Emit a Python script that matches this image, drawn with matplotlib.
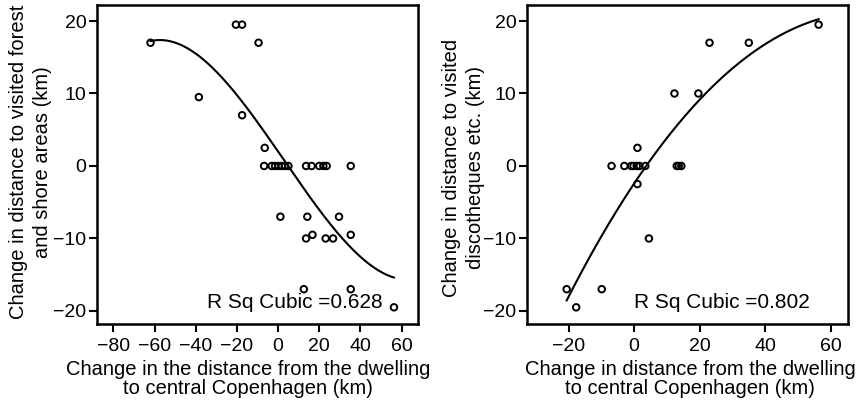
import numpy as np
import matplotlib
matplotlib.use("Agg")
import matplotlib.pyplot as plt

plt.rcParams['font.family'] = ['Liberation Sans', 'DejaVu Sans']

# Left panel: forest and shore areas
forest_x = [-62, -20.5, -17.5, -9.5, -38.5, -17.5, -6.5,
            -6.8, -3.1, -1.5, 0.2, 1.8, 3.4, 5.0, 13.6, 16.3, 20, 22, 23.6, 35.3,
            1.1, 14.2, 29.6, 13.6, 16.7, 23.1, 26.7, 35.3, 12.5, 35.3, 56.3]
forest_y = [17, 19.5, 19.5, 17, 9.5, 7, 2.5,
            0, 0, 0, 0, 0, 0, 0, 0, 0, 0, 0, 0, 0,
            -7, -7, -7, -10, -9.5, -10, -10, -9.5, -17, -17, -19.5]

# Right panel: discotheques etc.
disco_x = [56.3, 23, 35, 12.3, 19.6, 1.0,
           -6.9, -3.0, -0.9, -0.2, 0.8, 1.6, 3.4, 13, 13.6, 14.4,
           1.0, 4.5, -20.6, -9.9, -17.7]
disco_y = [19.5, 17, 17, 10, 10, 2.5,
           0, 0, 0, 0, 0, 0, 0, 0, 0, 0,
           -2.5, -10, -17, -17, -19.5]

xlabels = ["Change in the distance from the dwelling\nto central Copenhagen (km)",
           "Change in distance from the dwelling\nto central Copenhagen (km)"]
ylabels = ["Change in distance to visited forest\nand shore areas (km)",
           "Change in distance to visited\ndiscotheques etc. (km)"]
rsq_texts = ["R Sq Cubic =0.628", "R Sq Cubic =0.802"]
xticks_list = [[-80, -60, -40, -20, 0, 20, 40, 60], [-20, 0, 20, 40, 60]]
yticks = [-20, -10, 0, 10, 20]
xlims = [(-88, 68), (-32.7, 65.3)]
ylim = (-21.8, 22.2)

fig = plt.figure(figsize=(8.63, 4.11), dpi=100)
axes = [fig.add_axes([0.1124, 0.2117, 0.372, 0.776]),
        fig.add_axes([0.6107, 0.2117, 0.372, 0.776])]

datasets = [(forest_x, forest_y), (disco_x, disco_y)]
xlab_x = [0.47, 0.508]
ylab_pos = [(-0.14, 0.509), (-0.13, 0.49)]
rsq_x = [0.891, 0.882]
for i, ax in enumerate(axes):
    x = np.array(datasets[i][0], dtype=float)
    y = np.array(datasets[i][1], dtype=float)
    ax.scatter(x, y, s=22, facecolors='none', edgecolors='black', linewidths=1.4, zorder=3)
    coef = np.polyfit(x, y, 3)
    xs = np.linspace(x.min(), x.max(), 300)
    ax.plot(xs, np.polyval(coef, xs), color='black', lw=1.5, zorder=2)
    ax.set_xlim(*xlims[i])
    ax.set_ylim(*ylim)
    ax.set_xticks(xticks_list[i])
    ax.set_yticks(yticks)
    ax.set_xticklabels([f"{t}".replace('-', '\u2212') for t in xticks_list[i]])
    ax.set_yticklabels([f"{t}".replace('-', '\u2212') for t in yticks])
    ax.tick_params(direction='out', length=6, width=1.5, labelsize=14, colors='black')
    ax.tick_params(axis='x', pad=4.0)
    ax.tick_params(axis='y', pad=1.5)
    for sp in ax.spines.values():
        sp.set_linewidth(1.8)
    ax.set_xlabel(xlabels[i], fontsize=14.5, linespacing=1.05)
    ax.xaxis.set_label_coords(xlab_x[i], -0.112)
    ax.set_ylabel(ylabels[i], fontsize=14.5, linespacing=1.35)
    ax.yaxis.set_label_coords(*ylab_pos[i])
    ax.text(rsq_x[i], 0.066, rsq_texts[i], transform=ax.transAxes, ha='right', va='center',
            fontsize=15)

fig.savefig("out.png", dpi=100)
